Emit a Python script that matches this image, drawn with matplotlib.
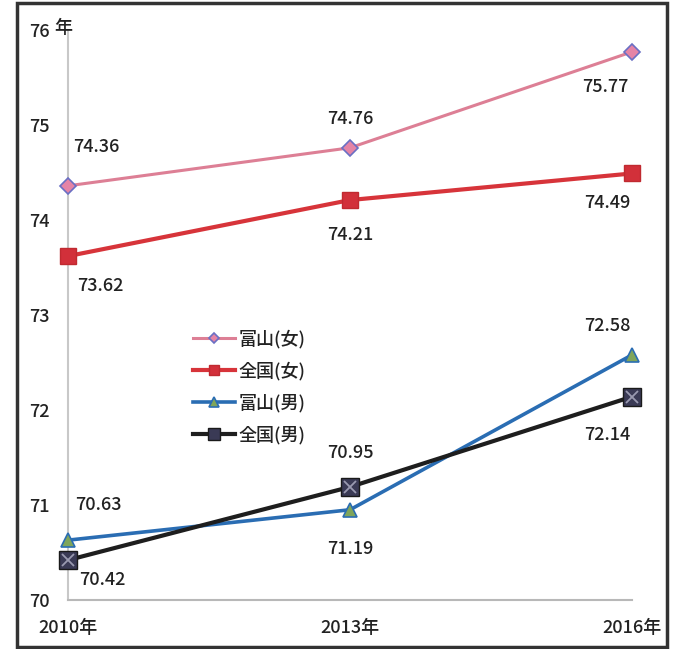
import matplotlib
matplotlib.use("Agg")
import matplotlib.pyplot as plt
from matplotlib.patches import Rectangle

plt.rcParams['font.family'] = ['Noto Sans CJK JP', 'DejaVu Sans']
plt.rcParams['font.weight'] = 'medium'

years = ["2010年", "2013年", "2016年"]
toyama_f = [74.36, 74.76, 75.77]
japan_f = [73.62, 74.21, 74.49]
toyama_m = [70.63, 70.95, 72.58]
japan_m = [70.42, 71.19, 72.14]
# label texts as printed in the chart
toyama_f_lbl = ["74.36", "74.76", "75.77"]
japan_f_lbl = ["73.62", "74.21", "74.49"]
toyama_m_lbl = ["70.63", "71.19", "72.58"]
japan_m_lbl = ["70.42", "70.95", "72.14"]
yticks = [70, 71, 72, 73, 74, 75, 76]

fig = plt.figure(figsize=(6.78, 6.49), dpi=100)
ax = fig.add_axes([68/678, 49/649, (632-68)/678, (600-30)/649])
x = list(range(len(years)))

ax.plot(x, toyama_f, color='#dd7f95', lw=2.2, marker='D', ms=8,
        mfc='#e584a6', mec='#6a6fc4', mew=1.2, label='富山(女)', zorder=3, clip_on=False)
ax.plot(x, japan_f, color='#d7343a', lw=3, marker='s', ms=11,
        mfc='#d2303a', mec='#c02a30', label='全国(女)', zorder=3, clip_on=False)
ax.plot(x, toyama_m, color='#2a6db3', lw=2.6, marker='^', ms=10,
        mfc='#7fa55a', mec='#2a6db3', mew=1.2, label='富山(男)', zorder=3, clip_on=False)
ax.plot(x, japan_m, color='#1e1e1e', lw=3, marker='s', ms=13,
        mfc='#3a3a55', mec='#1a1a1a', label='全国(男)', zorder=4, clip_on=False)
ax.plot(x, japan_m, ls='none', marker='x', ms=8, mec='#9a9ab0', mew=1.3, zorder=5, clip_on=False)

def labels(vals, texts, offs):
    for xi, v, t, (dx, dy) in zip(x, vals, texts, offs):
        ax.annotate(t, (xi, v), xytext=(dx, dy), textcoords='offset pixels',
                    ha='center', va='center', fontsize=13, color='#222222',
                    annotation_clip=False)

labels(toyama_f, toyama_f_lbl, [(28, 39), (0, 29), (-27, -35)])
labels(japan_f, japan_f_lbl, [(32, -30), (0, -35), (-25, -30)])
labels(toyama_m, toyama_m_lbl, [(30, 35), (0, -39), (-25, 29)])
labels(japan_m, japan_m_lbl, [(34, -20), (0, 34), (-25, -38)])

ax.set_xlim(0, 2)
ax.set_ylim(70, 76)
ax.set_yticks(yticks)
ax.set_yticklabels([str(v) for v in yticks])
ax.set_xticks(x)
ax.set_xticklabels(years)
ax.tick_params(axis='y', length=0, pad=13, labelsize=13, labelcolor='#222222')
ax.tick_params(axis='x', length=0, pad=14, labelsize=13, labelcolor='#222222')

for s in ['top', 'right']:
    ax.spines[s].set_visible(False)
ax.spines['left'].set_color('#c8c8c8')
ax.spines['bottom'].set_color('#b8b8b8')
ax.spines['left'].set_linewidth(1.5)
ax.spines['bottom'].set_linewidth(1.5)

fig.text(63/678, 1 - 28/649, '年', ha='center', va='center', fontsize=13, color='#222222')

leg = fig.legend(loc='upper left', bbox_to_anchor=(177/678, 1 - 313/649), frameon=False,
                 fontsize=13, handlelength=2.3, labelspacing=0.75, handletextpad=0.2,
                 markerscale=0.65)
for t in leg.get_texts():
    t.set_color('#222222')

fig.patches.append(Rectangle((17/678, 2/649), (667-17)/678, (646-2)/649,
                             transform=fig.transFigure, fill=False,
                             edgecolor='#333333', lw=2.5))

fig.savefig('out.png', dpi=100)
